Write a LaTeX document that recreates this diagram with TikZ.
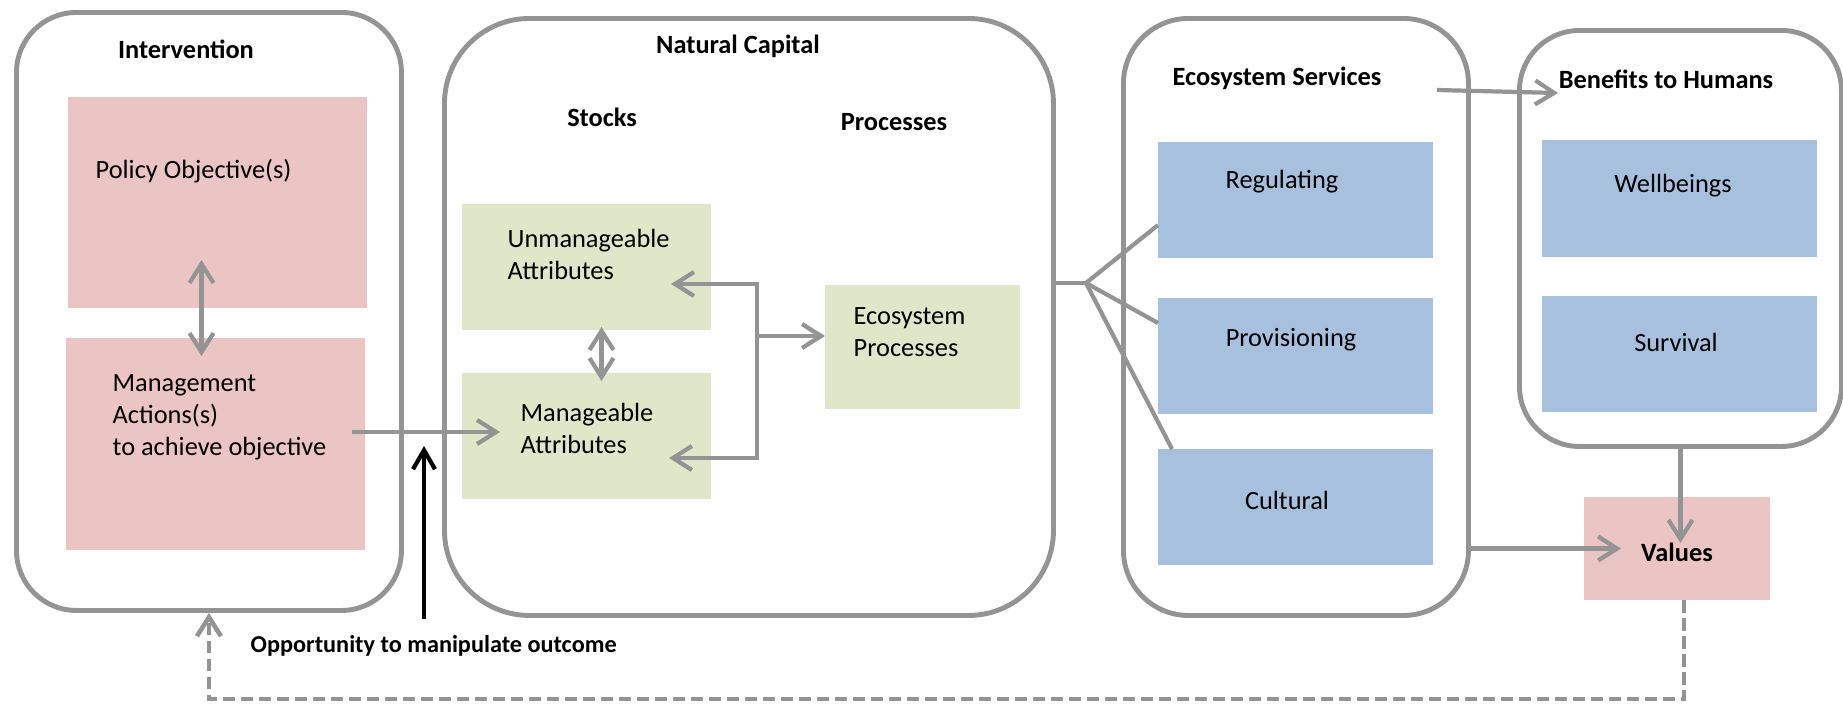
\documentclass[tikz,border=0pt]{standalone}
\usepackage{fontspec}
\setmainfont{Carlito}
\usetikzlibrary{arrows.meta}
\definecolor{edgegray}{RGB}{148,148,148}
\definecolor{pinkfill}{RGB}{235,196,196}
\definecolor{greenfill}{RGB}{223,231,200}
\definecolor{bluefill}{RGB}{167,192,222}

\begin{document}
\begin{tikzpicture}[x=0.1mm,y=-0.1mm,
  font=\fontsize{7.5}{9.1}\selectfont,
  panel/.style={draw=edgegray,line width=1.4pt,anchor=north west,inner sep=0pt},
  fillbox/.style={anchor=north west,inner sep=0pt,outer sep=0pt},
  heading/.style={font=\fontsize{7.5}{9.1}\selectfont\bfseries,inner sep=0pt},
  boxtext/.style={inner sep=0pt,align=left},
  flow/.style={draw=edgegray,line width=1.2pt,-{Straight Barb[length=1.9mm,width=2.4mm]}},
  twoway/.style={draw=edgegray,line width=1.2pt,{Straight Barb[length=1.9mm,width=2.4mm]}-{Straight Barb[length=1.9mm,width=2.4mm]}},
  link/.style={draw=edgegray,line width=1.2pt},
  lever/.style={draw=black,line width=1.2pt,-{Straight Barb[length=1.9mm,width=2.2mm]}},
  feedback/.style={draw=edgegray,line width=1.3pt,dash pattern=on 1.25mm off 0.55mm,-{Straight Barb[length=1.9mm,width=2.4mm]}}]
\useasboundingbox (0,0) rectangle (1843,706);
\node[panel,rounded corners=6mm,minimum width=38.5mm,minimum height=59.8mm] (interv) at (14,10) {}; % Intervention
\node[panel,rounded corners=8.5mm,minimum width=60.9mm,minimum height=59.7mm] (natcap) at (442,16) {}; % NaturalCapital
\node[panel,rounded corners=6.5mm,minimum width=34.5mm,minimum height=59.7mm] (es) at (1121,16) {}; % EcosystemServices
\node[panel,rounded corners=6mm,minimum width=32.2mm,minimum height=41.6mm] (benefits) at (1517,28) {}; % Benefits
\node[fillbox,fill=pinkfill,minimum width=29.9mm,minimum height=21.1mm] (policy) at (68,97) {}; % Policy
\node[fillbox,fill=pinkfill,minimum width=29.9mm,minimum height=21.2mm] (mgmt) at (66,338) {}; % Management
\node[fillbox,fill=greenfill,minimum width=24.9mm,minimum height=12.6mm] (unman) at (462,204) {}; % Unmanageable
\node[fillbox,fill=greenfill,minimum width=24.9mm,minimum height=12.6mm] (manag) at (462,373) {}; % Manageable
\node[fillbox,fill=greenfill,minimum width=19.5mm,minimum height=12.4mm] (ecoproc) at (825,285) {}; % EcoProcesses
\node[fillbox,fill=bluefill,minimum width=27.5mm,minimum height=11.6mm] (regul) at (1158,142) {}; % Regulating
\node[fillbox,fill=bluefill,minimum width=27.5mm,minimum height=11.6mm] (provis) at (1158,298) {}; % Provisioning
\node[fillbox,fill=bluefill,minimum width=27.5mm,minimum height=11.6mm] (cultur) at (1158,449) {}; % Cultural
\node[fillbox,fill=bluefill,minimum width=27.5mm,minimum height=11.7mm] (wellb) at (1542,140) {}; % Wellbeings
\node[fillbox,fill=bluefill,minimum width=27.5mm,minimum height=11.6mm] (surv) at (1542,296) {}; % Survival
\node[fillbox,fill=pinkfill,minimum width=18.6mm,minimum height=10.3mm] (values) at (1584,497) {}; % Values
\node[heading] (intertitle) at (186,49) {Intervention}; % Intervention
\node[heading] (nattitle) at (738,46) {Natural Capital}; % NaturalCapital
\node[heading] (stockstitle) at (602,117) {Stocks}; % NaturalCapital
\node[heading] (proctitle) at (894,122) {Processes}; % NaturalCapital
\node[heading] (estitle) at (1277,78) {Ecosystem Services}; % EcosystemServices
\node[heading] (bentitle) at (1666,79) {Benefits to Humans}; % Benefits
\node[boxtext,anchor=west] (policytext) at (95,171) {Policy Objective(s)}; % Policy
\node[boxtext,anchor=west] (mgmttext) at (112,417) {Management\\Actions(s)\\to achieve objective}; % Management
\node[boxtext,anchor=west] (unmantext) at (507,254) {Unmanageable\\Attributes}; % Unmanageable
\node[boxtext,anchor=west] (managtext) at (520,428) {Manageable\\Attributes}; % Manageable
\node[boxtext,anchor=west] (ecoproctext) at (853,332) {Ecosystem\\Processes}; % EcoProcesses
\node[boxtext] (regultext) at (1282,182) {Regulating}; % Regulating
\node[boxtext] (provistext) at (1291,340) {Provisioning}; % Provisioning
\node[boxtext] (culturtext) at (1287,500) {Cultural}; % Cultural
\node[boxtext] (wellbtext) at (1673,186) {Wellbeings}; % Wellbeings
\node[boxtext] (survtext) at (1676,342) {Survival}; % Survival
\node[heading] (valtext) at (1677,552) {Values}; % Values
\node[heading,font=\fontsize{6.9}{8.4}\selectfont\bfseries,anchor=west] (opptext) at (250,646) {Opportunity to manipulate outcome}; % Lever
\coordinate (split) at (757,336); % Stocks->Processes
\coordinate (fan) at (1086,283); % NaturalCapital->Services
\coordinate (leverfoot) at (424,619); % Lever
\draw[twoway] ([xshift=-1.6mm,yshift=4.8mm]policy.south) -- ++(0,96); % Policy<->Management
\draw[flow] ([xshift=-1.3mm,yshift=1.2mm]mgmt.east) -- ++(148,0); % Management->Manageable
\draw[lever] (leverfoot) -- ++(0,-173); % Lever
\draw[twoway] ([xshift=1.5mm,yshift=0.3mm]unman.south) -- ++(0,54); % Unmanageable<->Manageable
\draw[flow] (split) |- ([xshift=-4mm,yshift=-1.7mm]unman.east); % Processes->Unmanageable
\draw[flow] (split) |- ([xshift=-4.2mm,yshift=-2.2mm]manag.east); % Processes->Manageable
\draw[flow] (split) -- (split -| ecoproc.west); % Stocks->Processes
\draw[link] (natcap.east |- fan) -- (fan); % NaturalCapital->Services
\draw[link] (fan) -- ([yshift=3.3mm]regul.south west); % fan
\draw[link] (fan) -- ([yshift=3.3mm]provis.west); % fan
\draw[link] (fan) -- ([xshift=1.4mm]cultur.north west); % fan
\draw[flow] ([xshift=5.5mm,yshift=-1.2mm]estitle.east) -- ([yshift=-1.4mm]bentitle.west); % Services->Benefits
\draw[flow] (benefits.south) -- ++(0,94); % Benefits->Values
\draw[flow] (es.east |- values) -- ([xshift=3.7mm]values.west); % Services->Values
\draw[feedback] ([xshift=0.7mm]values.south) -- ++(0,99) -| (interv.south); % Values->Intervention
\end{tikzpicture}
\end{document}
